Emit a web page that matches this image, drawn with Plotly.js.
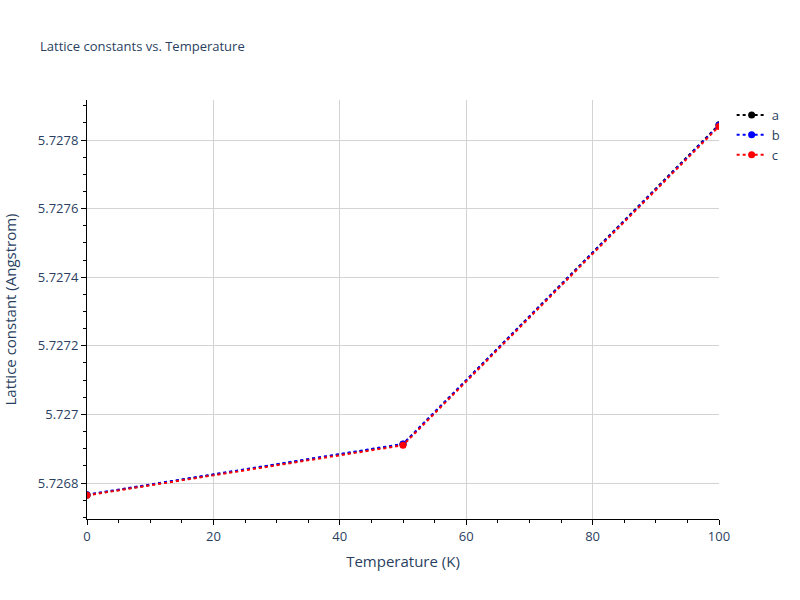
<!DOCTYPE html>
<html>
<head>
<meta charset="utf-8">
<script src="https://cdn.plot.ly/plotly-3.0.1.min.js"></script>
<style>body{margin:0;}#chart{width:800px;height:600px;}</style>
</head>
<body>
<div id="chart"></div>
<script>
const temperatures = [0, 50, 100];
const aValues = [5.726765, 5.726913, 5.727845];
const bValues = [5.726766, 5.726914, 5.727843];
const cValues = [5.726764, 5.726910, 5.727840];
const seriesNames = ["a", "b", "c"];
const seriesColors = ["black", "blue", "red"];

const allSeries = [aValues, bValues, cValues];
const traces = allSeries.map((vals, i) => ({
  x: temperatures,
  y: vals,
  name: seriesNames[i],
  type: "scatter",
  mode: "lines+markers",
  line: {color: seriesColors[i], dash: "dot", width: 2},
  marker: {color: seriesColors[i], size: 7}
}));

const layout = {
  width: 800, height: 600,
  margin: {l: 87, r: 81, t: 100, b: 81},
  paper_bgcolor: "white",
  plot_bgcolor: "white",
  font: {color: "#2a3f5f"},
  title: {text: "Lattice constants vs. Temperature", x: 0.05, xanchor: "left", y: 0.93, font: {size: 13}},
  xaxis: {
    title: {text: "Temperature (K)", font: {size: 15}, standoff: 12},
    range: [0, 100],
    dtick: 20,
    showline: true, linecolor: "black", linewidth: 1,
    ticks: "outside", tickcolor: "black",
    showgrid: true, gridcolor: "lightgray",
    zeroline: false,
    minor: {ticks: "outside", dtick: 5, tickcolor: "black", showgrid: false},
    tickfont: {size: 13}
  },
  yaxis: {
    title: {text: "Lattice constant (Angstrom)", font: {size: 15}, standoff: 22},
    range: [5.726695, 5.727917],
    dtick: 0.0002,
    tick0: 5.7268,
    showline: true, linecolor: "black", linewidth: 1,
    ticks: "outside", tickcolor: "black",
    showgrid: true, gridcolor: "lightgray",
    zeroline: false,
    minor: {ticks: "outside", dtick: 0.00005, tickcolor: "black", showgrid: false},
    tickfont: {size: 13}
  },
  legend: {font: {size: 13}}
};

Plotly.newPlot("chart", traces, layout, {displayModeBar: false});
</script>
</body>
</html>
